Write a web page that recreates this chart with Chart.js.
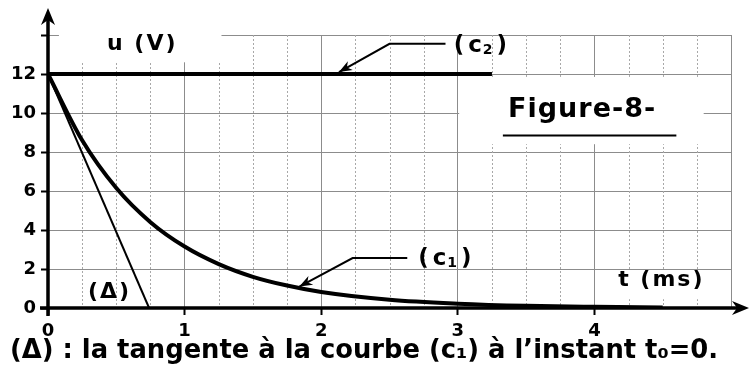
<!DOCTYPE html>
<html>
<head>
<meta charset="utf-8">
<script src="https://cdn.jsdelivr.net/npm/chart.js@4/dist/chart.umd.min.js"></script>
<style>
  html, body { margin: 0; background: #fff; }
  #c { display: block; }
</style>
</head>
<body>
<canvas id="c" width="750" height="367"></canvas>
<script>
// discharge curve (c1), readings in ms / V
const tC1 = [0, 0.25, 0.5, 0.75, 1, 1.25, 1.5, 1.75, 2, 2.5, 3, 3.5, 4, 4.5];
const uC1 = [12, 8.6, 6.15, 4.4, 3.15, 2.25, 1.6, 1.15, 0.82, 0.42, 0.22, 0.11, 0.06, 0.03];
// constant supply (c2)
const tC2 = [0, 3.25];
const uC2 = [12, 12];
// tangent (Δ) at t0 = 0
const tTan = [0, 0.74];
const uTan = [12, 0];
// axis labels
const xLabels = [0, 1, 2, 3, 4];
const yLabels = [0, 2, 4, 6, 8, 10, 12];

const FONT = '"DejaVu Sans", sans-serif';
const pts = (xs, ys) => xs.map((x, i) => ({ x: x, y: ys[i] }));
const isMajor = v => Math.abs(v - Math.round(v)) < 1e-6;

function arrowHead(ctx, x0, y0, x1, y1, len, half) {
  const a = Math.atan2(y1 - y0, x1 - x0);
  ctx.beginPath();
  ctx.moveTo(x1, y1);
  ctx.lineTo(x1 - len * Math.cos(a) + half * Math.sin(a), y1 - len * Math.sin(a) - half * Math.cos(a));
  ctx.lineTo(x1 - len * 0.7 * Math.cos(a), y1 - len * 0.7 * Math.sin(a));
  ctx.lineTo(x1 - len * Math.cos(a) - half * Math.sin(a), y1 - len * Math.sin(a) + half * Math.cos(a));
  ctx.closePath();
  ctx.fill();
}

// "(c" + subscript digit + ")" drawn with a full-size lowered digit
function curveName(ctx, digit, px, py, size) {
  ctx.textAlign = 'left';
  ctx.textBaseline = 'middle';
  ctx.font = 'bold ' + size + 'px ' + FONT;
  ctx.fillText('(', px, py);
  px += ctx.measureText('(').width + 4;
  ctx.fillText('c', px, py);
  px += ctx.measureText('c').width + 1;
  ctx.font = 'bold ' + Math.round(size * 0.6) + 'px ' + FONT;
  ctx.fillText(digit, px, py + size * 0.2);
  px += ctx.measureText(digit).width + 4;
  ctx.font = 'bold ' + size + 'px ' + FONT;
  ctx.fillText(')', px, py);
}

const decor = {
  id: 'decor',
  beforeDatasetsDraw(chart) {
    const { ctx, chartArea: ca, scales: { x, y } } = chart;
    ctx.save();
    // dotted quarter-ms lines
    ctx.strokeStyle = '#a8a8a8';
    ctx.lineWidth = 1;
    ctx.setLineDash([2, 2]);
    x.ticks.forEach(t => {
      if (isMajor(t.value)) return;
      const px = Math.round(x.getPixelForValue(t.value)) + 0.5;
      ctx.beginPath();
      ctx.moveTo(px, ca.top);
      ctx.lineTo(px, ca.bottom);
      ctx.stroke();
    });
    ctx.setLineDash([]);

    ctx.fillStyle = '#fff';
    const blank = (t0, t1, u0, u1) => {
      const px0 = x.getPixelForValue(t0), px1 = x.getPixelForValue(t1);
      const py0 = y.getPixelForValue(u0), py1 = y.getPixelForValue(u1);
      ctx.fillRect(px0, py0, px1 - px0, py1 - py0);
    };
    blank(0.08, 1.27, 14.1, 12.6);   // behind u (V)
    blank(3.01, 4.8, 11.85, 8.4);    // behind Figure-8-
    blank(4.01, 4.99, 1.93, 0.45);   // behind t (ms)
    ctx.restore();
  },
  afterDatasetsDraw(chart) {
    const { ctx, chartArea: ca, scales: { x, y } } = chart;
    const X = v => x.getPixelForValue(v), Y = v => y.getPixelForValue(v);
    ctx.save();
    ctx.fillStyle = '#000';
    ctx.strokeStyle = '#000';

    // axes with arrows
    ctx.lineWidth = 3.5;
    ctx.beginPath();
    ctx.moveTo(ca.left, ca.bottom + 8);
    ctx.lineTo(ca.left, 14);
    ctx.moveTo(ca.left - 8, ca.bottom);
    ctx.lineTo(744, ca.bottom);
    ctx.stroke();
    arrowHead(ctx, ca.left, 40, ca.left, 8, 17, 7);
    arrowHead(ctx, 700, ca.bottom, 749, ca.bottom, 17, 7);

    // axis titles
    ctx.font = 'bold 22px ' + FONT;
    ctx.letterSpacing = '2px';
    ctx.textBaseline = 'middle';
    ctx.textAlign = 'center';
    ctx.fillText('u (V)', X(0.69), Y(13.5));
    ctx.fillText('t (ms)', X(4.49), Y(1.42));
    ctx.fillText('(Δ)', X(0.45), Y(0.82));
    ctx.letterSpacing = '0px';

    // curve names with leaders
    curveName(ctx, '2', X(2.97), Y(13.45), 23);
    curveName(ctx, '1', X(2.71), Y(2.5), 23);
    ctx.lineWidth = 2;
    ctx.beginPath();
    ctx.moveTo(X(2.91), Y(13.55));
    ctx.lineTo(X(2.5), Y(13.55));
    ctx.lineTo(X(2.13), Y(12.1));
    ctx.moveTo(X(2.63), Y(2.56));
    ctx.lineTo(X(2.23), Y(2.56));
    ctx.lineTo(X(1.84), Y(1.1));
    ctx.stroke();
    arrowHead(ctx, X(2.5), Y(13.55), X(2.13), Y(12.1), 13, 5);
    arrowHead(ctx, X(2.23), Y(2.56), X(1.84), Y(1.1), 13, 5);

    // figure title
    ctx.font = 'bold 27px ' + FONT;
    ctx.letterSpacing = '1px';
    ctx.textAlign = 'center';
    ctx.fillText('Figure-8-', X(3.91), Y(10.15));
    ctx.letterSpacing = '0px';
    ctx.lineWidth = 2;
    ctx.beginPath();
    ctx.moveTo(X(3.33), Y(8.85));
    ctx.lineTo(X(4.6), Y(8.85));
    ctx.stroke();

    // caption, fitted to the page width
    const cap = '(Δ) : la tangente à la courbe (c₁) à l’instant t₀=0.';
    let size = 21;
    ctx.font = 'bold ' + size + 'px ' + FONT;
    size = size * 708 / ctx.measureText(cap).width;
    ctx.font = 'bold ' + size.toFixed(1) + 'px ' + FONT;
    ctx.textAlign = 'left';
    ctx.fillText(cap, 10, 351);
    ctx.restore();
  }
};

new Chart(document.getElementById('c'), {
  type: 'line',
  data: {
    datasets: [
      { label: '(c1)', data: pts(tC1, uC1), borderColor: '#000', borderWidth: 4,
        cubicInterpolationMode: 'monotone', pointRadius: 0 },
      { label: '(c2)', data: pts(tC2, uC2), borderColor: '#000', borderWidth: 4, pointRadius: 0 },
      { label: '(Δ)', data: pts(tTan, uTan), borderColor: '#000', borderWidth: 2, pointRadius: 0 }
    ]
  },
  options: {
    responsive: false,
    animation: false,
    devicePixelRatio: 1,
    layout: { padding: { top: 35, right: 19, left: 0, bottom: 0 } },
    plugins: { legend: { display: false }, tooltip: { enabled: false } },
    scales: {
      x: {
        type: 'linear', min: 0, max: 5,
        afterFit: s => { s.height = 59; },
        afterBuildTicks: s => {
          const t = [];
          for (let i = 0; i <= 20; i++) t.push({ value: i * 0.25 });
          s.ticks = t;
        },
        ticks: {
          autoSkip: false, maxRotation: 0, padding: 6, color: '#000',
          font: { family: FONT, size: 18, weight: 'bold' },
          callback: v => (isMajor(v) && xLabels.includes(Math.round(v))) ? String(Math.round(v)) : ''
        },
        grid: {
          color: c => isMajor(c.tick.value) ? '#8c8c8c' : 'rgba(0,0,0,0)',
          lineWidth: 1,
          tickLength: 7,
          tickWidth: 2,
          tickColor: c => (isMajor(c.tick.value) && c.tick.value < 5) ? '#000' : 'rgba(0,0,0,0)'
        },
        border: { display: false }
      },
      y: {
        min: 0, max: 14,
        afterFit: s => { s.width = 48; },
        ticks: {
          stepSize: 2, padding: 5, color: '#000',
          font: { family: FONT, size: 18, weight: 'bold' },
          callback: v => yLabels.includes(v) ? String(v) : ''
        },
        grid: { color: '#8c8c8c', lineWidth: 1, tickLength: 7, tickWidth: 2, tickColor: '#000' },
        border: { display: false }
      }
    }
  },
  plugins: [decor]
});
</script>
</body>
</html>
